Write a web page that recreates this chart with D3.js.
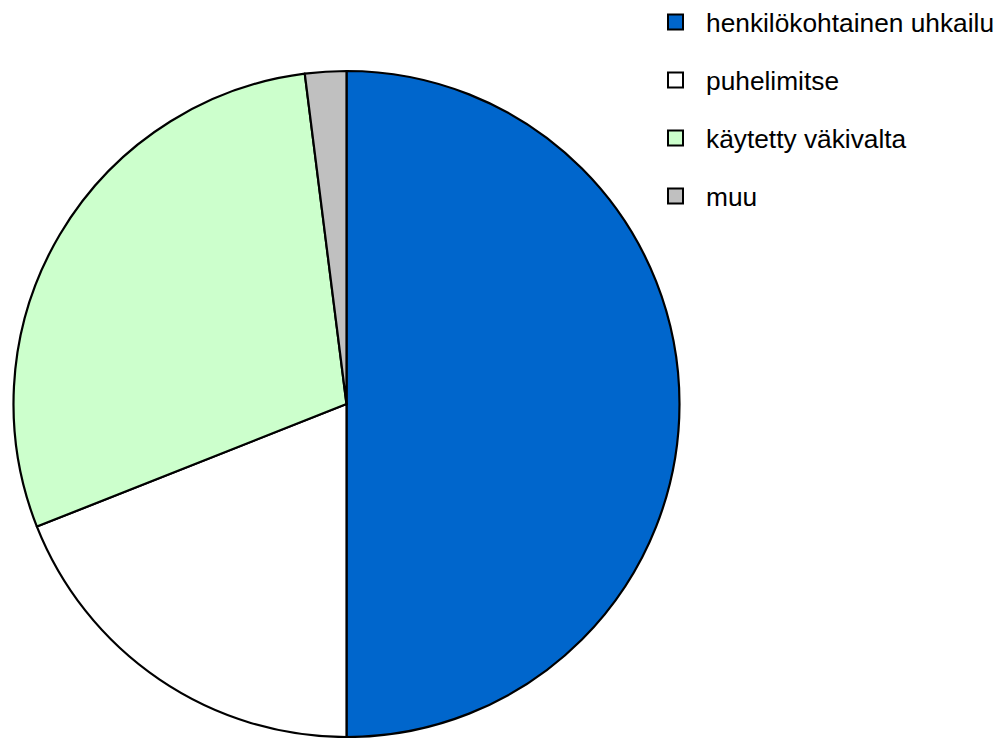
<!DOCTYPE html>
<html>
<head>
<meta charset="utf-8">
<script src="https://cdn.jsdelivr.net/npm/d3@7"></script>
<style>
  body { margin: 0; background: #fff; }
  svg { display: block; }
</style>
</head>
<body>
<div class="graph"></div>
<script>
let categories = ["henkilökohtainen uhkailu", "puhelimitse", "käytetty väkivalta", "muu"];
let values = [50, 19, 29, 2];
let colors = ["#0066CC", "#FFFFFF", "#CCFFCC", "#C0C0C0"];

let w = 1003;
let h = 738;
let cx = 346.5;
let cy = 404;
let r = 333;

let svg = d3
  .select(".graph")
  .append("svg")
  .attr("width", w)
  .attr("height", h);

let pie = d3.pie().sort(null).value((d) => d);
let arc = d3.arc().innerRadius(0).outerRadius(r);

let color = d3.scaleOrdinal().domain(categories).range(colors);

svg
  .append("g")
  .attr("transform", "translate(" + cx + "," + cy + ")")
  .selectAll("path")
  .data(pie(values))
  .enter()
  .append("path")
  .attr("d", arc)
  .attr("fill", (d, i) => color(categories[i]))
  .attr("stroke", "#000")
  .attr("stroke-width", 2.2)
  .attr("stroke-linejoin", "round");

// legend
let legendY = d3.scalePoint().domain(categories).range([22, 196]);

let legend = svg
  .append("g")
  .selectAll("g")
  .data(categories)
  .enter()
  .append("g")
  .attr("transform", (d) => "translate(667," + legendY(d) + ")");

legend
  .append("rect")
  .attr("x", 1)
  .attr("y", -7.5)
  .attr("width", 15)
  .attr("height", 15)
  .attr("fill", (d) => color(d))
  .attr("stroke", "#000")
  .attr("stroke-width", 2);

legend
  .append("text")
  .attr("x", 39)
  .attr("y", 10)
  .style("font-family", "'Liberation Sans', Arial, sans-serif")
  .style("font-size", "26.3px")
  .attr("fill", "#000")
  .text((d) => d);
</script>
</body>
</html>
